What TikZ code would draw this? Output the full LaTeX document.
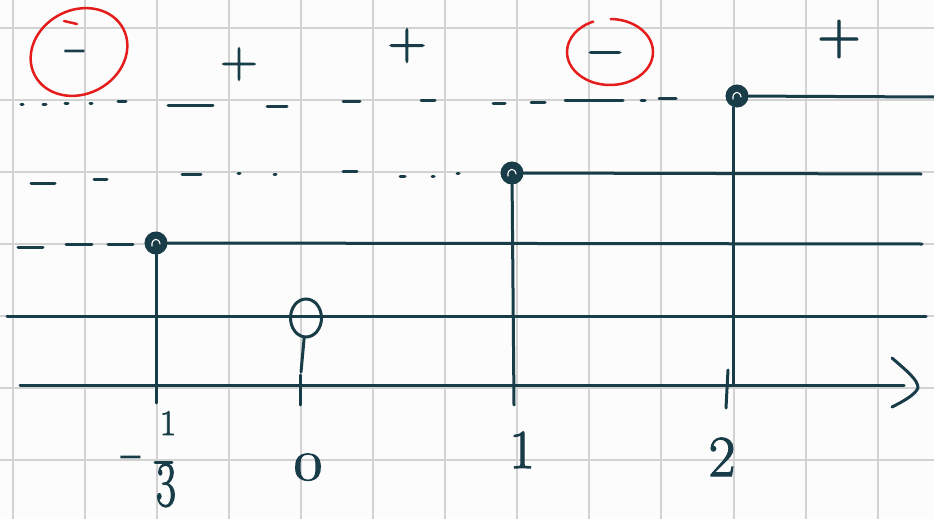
\documentclass[tikz,border=0pt]{standalone}
\usepackage{fontspec}
\usetikzlibrary{shapes.geometric}
\newfontfamily\handfont{Latin Modern Roman}[FakeBold=2]
\newfontfamily\dashfont{DejaVu Sans}
\definecolor{ink}{RGB}{24,60,72}
\definecolor{pen}{RGB}{228,28,28}
\definecolor{gridc}{RGB}{210,210,210}
\definecolor{paper}{RGB}{252,252,252}
\begin{document}
\begin{tikzpicture}[x=1pt,y=-1pt,
  inkline/.style={draw=ink,line width=3pt,line cap=round,line join=round},
  redring/.style={draw=pen,line width=2.5pt,line cap=round},
  gridline/.style={draw=gridc,line width=2pt},
  sign/.style={text=ink,inner sep=0pt,anchor=base},
  dotpt/.style={circle,fill=ink,draw=ink,line width=1pt,minimum size=22pt,inner sep=0pt},
  zeropt/.style={ellipse,draw=ink,line width=3pt,minimum width=31pt,minimum height=38pt,inner sep=0pt}
]
\fill[paper] (0,0) rectangle (934,519);
\useasboundingbox (0,0) rectangle (934,519);
% grid paper
\foreach \i in {0,...,12} \draw[gridline] ({13+72.05*\i},0) -- ({13+72.05*\i},519);
\foreach \j in {0,...,6} \draw[gridline] (0,{28+72*\j}) -- (934,{28+72*\j});

% dashed guide rows
\foreach \a/\b/\y in {21/23/104, 43/46/104, 65/68/103, 90/92/103, 118/126/101, 168/213/105,
  267/287/106, 343/360/101, 421/435/100, 493/505/103, 531/545/102, 565/623/100, 641/645/100, 659/676/98,
  31/55/183, 94/107/179, 182/201/174, 238/240/173, 274/276/174, 343/357/171, 400/405/176, 432/434/176, 457/459/173,
  18/43/247, 66/92/244, 108/133/244}
  \draw[inkline] (\a,\y) -- (\b,\y);

% points
\node[dotpt] (dA) at (156,243) {};
\node[dotpt] (dB) at (512,173) {};
\node[dotpt] (dC) at (737,96) {};
\foreach \d in {dA,dB,dC}
  \draw[white,line width=1.1pt,line cap=round] ([shift={(-4,3)}]\d.center) .. controls ([shift={(-5,-5)}]\d.center) and ([shift={(3,-6)}]\d.center) .. ([shift={(4,1)}]\d.center);
\node[zeropt] (z) at (306,318) {};

% end coordinates
\coordinate (eA) at (922,244);
\coordinate (eB) at (921,174);
\coordinate (eC) at (934,97);
\coordinate (tA) at (156,403);
\coordinate (tB) at (514,405);
\coordinate (tC) at (733,385);
\coordinate (tZ) at (301,372);
\coordinate (kZ1) at (300,375);
\coordinate (kZ2) at (300,405);
\coordinate (k2a) at (728,370);
\coordinate (k2b) at (726,408);
\coordinate (L0) at (7,316);
\coordinate (L1) at (926,316);
\coordinate (X0) at (20,385);
\coordinate (X1) at (904,385);
\coordinate (h1) at (892,358);
\coordinate (h2) at (918,388);
\coordinate (h3) at (892,407);

\draw[inkline] (dA) -- (eA);
\draw[inkline] (dB) -- (eB);
\draw[inkline] (dC) -- (eC);
\draw[inkline] (dA) -- (tA);
\draw[inkline] (dB) -- (tB);
\draw[inkline] (dC.south -| tC) -- (tC);
\draw[inkline] (z) -- (tZ);
\draw[inkline] (kZ1) -- (kZ2);
\draw[inkline] (k2a) -- (k2b);
\draw[inkline] (L0) -- (L1);
\draw[inkline] (X0) -- (X1);
\draw[inkline] (h1) .. controls (908,372) and (918,380) .. (h2) .. controls (915,395) and (902,402) .. (h3);

% signs
\node[sign,font=\dashfont\fontsize{32}{32}\selectfont] (m1) at (75,62) {−};
\node[sign,font=\handfont\fontsize{52}{52}\selectfont] (p1) at (239,77) {+};
\node[sign,font=\handfont\fontsize{54}{54}\selectfont] (p2) at (407,59) {+};
\node[sign,font=\handfont\fontsize{50}{50}\selectfont] (m2) at (605,65) {−};
\node[sign,font=\handfont\fontsize{60}{60}\selectfont] (p3) at (839,54) {+};
\draw[redring, rotate around={28:(79,52)}] (79,52) ellipse (50 and 42);
\draw[redring] (64,21) -- (77,24);
\draw[redring] (610,52) ++(271:43 and 33) arc[start angle=271,end angle=607,x radius=43,y radius=33];

% labels
\node[sign,font=\dashfont\fontsize{32}{32}\selectfont] (n0) at (131,467) {−};
\node[sign,font=\handfont\fontsize{36}{36}\selectfont] (n1) at (168,435) {1};
\coordinate (fb1) at (155,462);
\coordinate (fb2) at (172,462);
\draw[inkline] (fb1) -- (fb2);
\node[sign,font=\handfont\fontsize{64}{64}\selectfont] (n3) at (166,506) {\scalebox{0.68}[1]{3}};
\node[sign,font=\handfont\fontsize{40}{40}\selectfont] (nz) at (308,480) {\scalebox{1.6}[1]{0}};
\node[sign,font=\handfont\fontsize{55}{55}\selectfont] (none) at (522,468) {1};
\node[sign,font=\handfont\fontsize{58}{58}\selectfont] (ntwo) at (722,476) {2};
\end{tikzpicture}
\end{document}
